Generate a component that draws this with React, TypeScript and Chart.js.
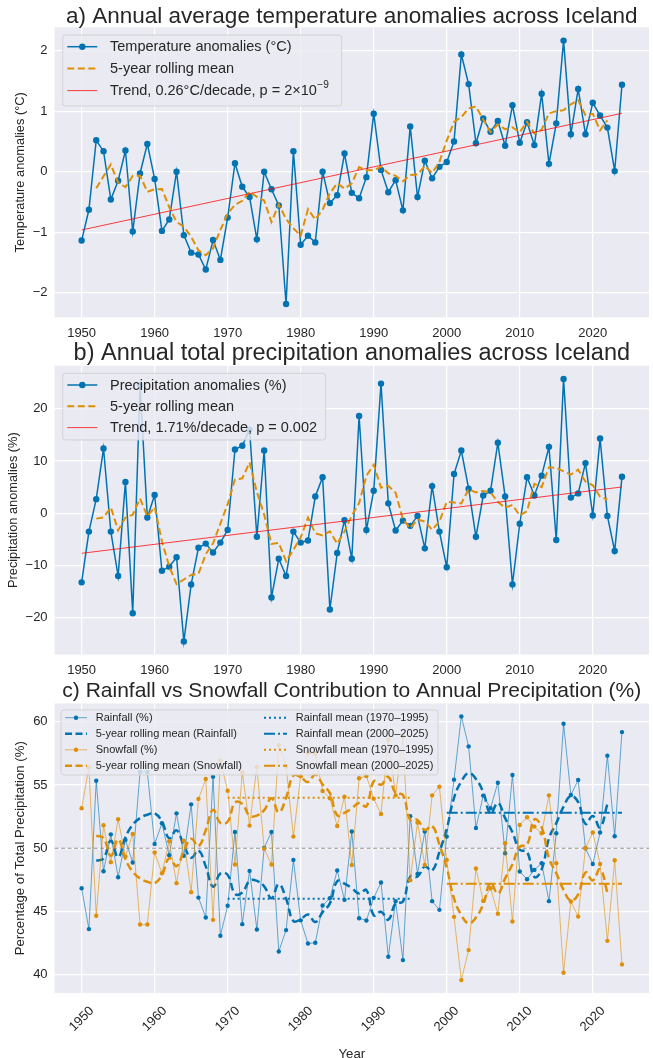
import React, { useEffect, useRef } from "react";
import { Chart, registerables } from "chart.js";

Chart.register(...registerables);

const FONT = "'Liberation Sans', Arial, Helvetica, sans-serif";
const TEXT = "#262626";
const BG = "#EAEAF2";
const BLUE = "#0173B2";
const BLUE_A = "rgba(1,115,178,0.6)";
const ORANGE = "#DE8F05";
const ORANGE_A = "rgba(222,143,5,0.6)";
const RED = "rgba(255,0,0,0.75)";

const YEARS = [
  1950, 1951, 1952, 1953, 1954, 1955, 1956, 1957, 1958, 1959,
  1960, 1961, 1962, 1963, 1964, 1965, 1966, 1967, 1968, 1969,
  1970, 1971, 1972, 1973, 1974, 1975, 1976, 1977, 1978, 1979,
  1980, 1981, 1982, 1983, 1984, 1985, 1986, 1987, 1988, 1989,
  1990, 1991, 1992, 1993, 1994, 1995, 1996, 1997, 1998, 1999,
  2000, 2001, 2002, 2003, 2004, 2005, 2006, 2007, 2008, 2009,
  2010, 2011, 2012, 2013, 2014, 2015, 2016, 2017, 2018, 2019,
  2020, 2021, 2022, 2023, 2024,
];

const TEMP_ANOM = [
  -1.14, -0.63, 0.52, 0.34, -0.46, -0.15, 0.35, -0.99, -0.03, 0.46,
  -0.12, -0.98, -0.79, 0.0, -1.05, -1.34, -1.37, -1.62, -1.13, -1.46,
  -0.76, 0.14, -0.25, -0.42, -1.12, 0.0, -0.29, -0.56, -2.19, 0.34,
  -1.21, -1.06, -1.17, 0.0, -0.52, -0.39, 0.3, -0.35, -0.44, -0.09,
  0.96, 0.03, -0.34, -0.14, -0.64, 0.75, -0.42, 0.18, -0.11, 0.08,
  0.16, 0.5, 1.94, 1.45, 0.47, 0.88, 0.66, 0.84, 0.43, 1.1,
  0.48, 0.82, 0.44, 1.29, 0.13, 0.8, 2.17, 0.62, 1.37, 0.62,
  1.14, 0.93, 0.73, 0.01, 1.44,
];
const TEMP_TREND_YEARS = [1950, 2024];
const TEMP_TREND = [-0.965, 0.967];

const PRECIP_ANOM = [
  -13.2, -3.5, 2.7, 12.4, -3.5, -12.0, 6.0, -19.1, 24.5, -0.8,
  3.5, -11.0, -10.2, -8.4, -24.5, -13.6, -6.6, -5.8, -7.5, -5.6,
  -3.2, 12.2, 12.9, 16.0, -4.5, 12.0, -16.1, -8.7, -12.0, -3.5,
  -5.6, -5.2, 3.2, 6.9, -18.4, -7.6, -1.3, -8.7, 18.6, -3.2,
  4.3, 24.8, 1.9, -3.3, -1.4, -2.4, -0.5, -6.7, 5.2, -3.5,
  -10.3, 7.5, 12.0, 4.7, -4.5, 3.4, 4.3, 13.5, 3.2, -13.6,
  -2.0, 6.9, 3.4, 7.2, 12.7, -5.1, 25.7, 3.0, 3.8, 9.6,
  -0.4, 14.3, -0.5, -7.2, 7.0,
];
const PRECIP_TREND_YEARS = [1950, 2024];
const PRECIP_TREND = [-7.65, 5.03];

const RAINFALL_PCT = [
  46.84, 43.61, 55.34, 48.18, 51.1, 47.71, 50.66, 48.87, 56.03, 56.03,
  50.34, 51.97, 49.45, 52.76, 49.4, 53.47, 46.1, 44.53, 55.66, 43.08,
  45.45, 51.29, 44.0, 48.21, 43.58, 50.03, 51.29, 41.84, 43.53, 49.08,
  44.3, 42.47, 42.53, 45.47, 46.05, 48.24, 45.92, 51.32, 44.47, 44.29,
  46.08, 47.29, 41.42, 45.82, 41.16, 52.53, 47.97, 51.32, 45.82, 45.13,
  50.92, 55.42, 60.42, 58.05, 51.6, 54.16, 53.16, 55.18, 49.61, 55.79,
  48.16, 47.55, 48.29, 48.82, 45.82, 51.18, 59.84, 54.21, 55.39, 50.0,
  48.76, 51.24, 57.32, 50.95, 59.18,
];
const SNOWFALL_PCT = [
  53.16, 56.39, 44.66, 51.82, 48.9, 52.29, 49.34, 51.13, 43.97, 43.97,
  49.66, 48.03, 50.55, 47.24, 50.6, 46.53, 53.9, 55.47, 44.34, 56.92,
  54.55, 48.71, 56.0, 51.79, 56.42, 49.97, 48.71, 58.16, 56.47, 50.92,
  55.7, 57.53, 57.47, 54.53, 53.95, 51.76, 54.08, 48.68, 55.53, 55.71,
  53.92, 52.71, 58.58, 54.18, 58.84, 47.47, 52.03, 48.68, 54.18, 54.87,
  49.08, 44.58, 39.58, 41.95, 48.4, 45.84, 46.84, 44.82, 50.39, 44.21,
  51.84, 52.45, 51.71, 51.18, 54.18, 48.82, 40.16, 45.79, 44.61, 50.0,
  51.24, 48.76, 42.68, 49.05, 40.82,
];
const PERIOD_EARLY = [1970, 1995];
const PERIOD_LATE = [2000, 2024];
const RAIN_PERIOD_MEANS = [46.0, 52.8];
const SNOW_PERIOD_MEANS = [54.0, 47.2];
const EQUAL_SHARE = 50;

const X_RANGE = [1946.3, 2027.7];
const X_TICKS = [1950, 1960, 1970, 1980, 1990, 2000, 2010, 2020];
const TEMP_RANGE = [-2.41, 2.39];
const TEMP_TICKS = [-2, -1, 0, 1, 2];
const PRECIP_RANGE = [-27.0, 28.2];
const PRECIP_TICKS = [-20, -10, 0, 10, 20];
const SHARE_RANGE = [38.56, 61.44];
const SHARE_TICKS = [40, 45, 50, 55, 60];

function rolling5(vals: number[]) {
  const out: { x: number; y: number }[] = [];
  for (let i = 2; i < vals.length - 2; i++) {
    out.push({ x: YEARS[i], y: (vals[i - 2] + vals[i - 1] + vals[i] + vals[i + 1] + vals[i + 2]) / 5 });
  }
  return out;
}
const pts = (vals: number[]) => vals.map((v, i) => ({ x: YEARS[i], y: v }));
const seg = (xs: number[], y0: number, y1: number) => [
  { x: xs[0], y: y0 },
  { x: xs[1], y: y1 },
];
const fmt = (v: number) => (v < 0 ? "\u2212" + Math.abs(v) : String(v));

type LegItem = {
  label: string;
  sup?: string;
  color: string;
  width: number;
  dash?: number[];
  marker?: number;
  markerColor?: string;
};
type LegCol = { sampleX: number; sampleW: number; textX: number; items: LegItem[] };
type Decor = {
  title: string;
  titleY: number;
  titleSize: number;
  yTitle: string;
  yTitleX: number;
  yTitleSize: number;
  xTitle?: string;
  xTitleY?: number;
  rotTicksY?: number;
  legend: { x: number; y: number; w: number; h: number; font: number; rows: number[]; cols: LegCol[] };
};

function drawLegend(ctx: CanvasRenderingContext2D, L: Decor["legend"]) {
  ctx.save();
  const r = 3;
  ctx.beginPath();
  ctx.moveTo(L.x + r, L.y);
  ctx.lineTo(L.x + L.w - r, L.y);
  ctx.arcTo(L.x + L.w, L.y, L.x + L.w, L.y + r, r);
  ctx.lineTo(L.x + L.w, L.y + L.h - r);
  ctx.arcTo(L.x + L.w, L.y + L.h, L.x + L.w - r, L.y + L.h, r);
  ctx.lineTo(L.x + r, L.y + L.h);
  ctx.arcTo(L.x, L.y + L.h, L.x, L.y + L.h - r, r);
  ctx.lineTo(L.x, L.y + r);
  ctx.arcTo(L.x, L.y, L.x + r, L.y, r);
  ctx.closePath();
  ctx.fillStyle = "rgba(234,234,242,0.82)";
  ctx.fill();
  ctx.strokeStyle = "rgba(204,204,204,0.8)";
  ctx.lineWidth = 1;
  ctx.stroke();
  for (const col of L.cols) {
    col.items.forEach((it, i) => {
      const y = L.rows[i];
      ctx.save();
      ctx.strokeStyle = it.color;
      ctx.lineWidth = it.width;
      ctx.setLineDash(it.dash || []);
      ctx.beginPath();
      ctx.moveTo(col.sampleX, y);
      ctx.lineTo(col.sampleX + col.sampleW, y);
      ctx.stroke();
      ctx.restore();
      if (it.marker) {
        ctx.beginPath();
        ctx.fillStyle = it.markerColor || it.color;
        ctx.arc(col.sampleX + col.sampleW / 2, y, it.marker, 0, Math.PI * 2);
        ctx.fill();
      }
      ctx.fillStyle = TEXT;
      ctx.font = `${L.font}px ${FONT}`;
      ctx.textAlign = "left";
      ctx.textBaseline = "middle";
      ctx.fillText(it.label, col.textX, y + 0.5);
      if (it.sup) {
        const w = ctx.measureText(it.label).width;
        ctx.font = `${L.font * 0.7}px ${FONT}`;
        ctx.fillText(it.sup, col.textX + w + 0.5, y - L.font * 0.38);
      }
    });
  }
  ctx.restore();
}

function decorPlugin(d: Decor) {
  return {
    id: "decor",
    beforeDraw(chart: any) {
      const { ctx, chartArea: ca } = chart;
      ctx.save();
      ctx.fillStyle = "#ffffff";
      ctx.fillRect(0, 0, chart.width, chart.height);
      ctx.fillStyle = BG;
      ctx.fillRect(ca.left, ca.top, ca.right - ca.left, ca.bottom - ca.top);
      ctx.restore();
    },
    afterDraw(chart: any) {
      const { ctx, chartArea: ca } = chart;
      ctx.save();
      ctx.fillStyle = TEXT;
      ctx.textAlign = "center";
      ctx.textBaseline = "middle";
      ctx.font = `${d.titleSize}px ${FONT}`;
      ctx.fillText(d.title, (ca.left + ca.right) / 2, d.titleY);
      ctx.save();
      ctx.translate(d.yTitleX, (ca.top + ca.bottom) / 2);
      ctx.rotate(-Math.PI / 2);
      ctx.font = `${d.yTitleSize}px ${FONT}`;
      ctx.fillText(d.yTitle, 0, 0);
      ctx.restore();
      if (d.xTitle) {
        ctx.font = `${d.yTitleSize}px ${FONT}`;
        ctx.fillText(d.xTitle, (ca.left + ca.right) / 2, d.xTitleY as number);
      }
      if (d.rotTicksY !== undefined) {
        ctx.font = `13px ${FONT}`;
        for (const v of X_TICKS) {
          const x = chart.scales.x.getPixelForValue(v);
          ctx.save();
          ctx.translate(x, d.rotTicksY);
          ctx.rotate(-Math.PI / 4);
          ctx.fillText(String(v), 0, 0);
          ctx.restore();
        }
      }
      drawLegend(ctx, d.legend);
      ctx.restore();
    },
  };
}

const Y_AXIS_W = 54.6;
const RIGHT_PAD = 3.3;

function baseOptions(plotTop: number, xH: number, yRange: number[], yTicks: number[], showXLabels: boolean) {
  return {
    animation: false,
    responsive: false,
    devicePixelRatio: 1,
    events: [],
    layout: { padding: { left: 0, right: RIGHT_PAD, top: plotTop, bottom: 0 } },
    plugins: { legend: { display: false }, tooltip: { enabled: false }, title: { display: false } },
    scales: {
      x: {
        type: "linear",
        min: X_RANGE[0],
        max: X_RANGE[1],
        afterBuildTicks: (s: any) => {
          s.ticks = X_TICKS.map((v) => ({ value: v }));
        },
        afterFit: (s: any) => {
          s.height = xH;
        },
        grid: { color: "#ffffff", lineWidth: 1.2, drawTicks: false },
        border: { display: false },
        ticks: {
          display: showXLabels,
          color: TEXT,
          font: { size: 13, family: FONT },
          padding: 8.5,
          maxRotation: 0,
          minRotation: 0,
          autoSkip: false,
          callback: (v: number) => String(v),
        },
      },
      y: {
        type: "linear",
        min: yRange[0],
        max: yRange[1],
        afterBuildTicks: (s: any) => {
          s.ticks = yTicks.map((v) => ({ value: v }));
        },
        afterFit: (s: any) => {
          s.width = Y_AXIS_W;
        },
        grid: { color: "#ffffff", lineWidth: 1.2, drawTicks: false },
        border: { display: false },
        ticks: {
          color: TEXT,
          font: { size: 13, family: FONT },
          padding: 7,
          autoSkip: false,
          callback: (v: number) => fmt(v),
        },
      },
    },
  };
}

// canvas slices of the page: [top, height]
const SLICE_A = [0, 341];
const SLICE_B = [341, 337];
const SLICE_C = [678, 380];

function buildTemp(canvas: HTMLCanvasElement) {
  const d: Decor = {
    title: "a) Annual average temperature anomalies across Iceland",
    titleY: 17,
    titleSize: 22.5,
    yTitle: "Temperature anomalies (\u00B0C)",
    yTitleX: 20,
    yTitleSize: 12.8,
    legend: {
      x: 62.7, y: 35, w: 279, h: 71, font: 14.5, rows: [46.7, 68.6, 90.6],
      cols: [{
        sampleX: 67.3, sampleW: 30, textX: 110,
        items: [
          { label: "Temperature anomalies (\u00B0C)", color: BLUE, width: 1.5, marker: 3.2 },
          { label: "5-year rolling mean", color: ORANGE, width: 2, dash: [7, 3.5] },
          { label: "Trend, 0.26\u00B0C/decade, p = 2\u00D710", sup: "\u22129", color: RED, width: 1 },
        ],
      }],
    },
  };
  return new Chart(canvas, {
    type: "line",
    data: {
      datasets: [
        { data: pts(TEMP_ANOM), borderColor: BLUE, backgroundColor: BLUE, borderWidth: 1.5, pointRadius: 3.2, pointBorderWidth: 0, pointBackgroundColor: BLUE, order: 3 },
        { data: rolling5(TEMP_ANOM), borderColor: ORANGE, borderWidth: 2, borderDash: [7, 3.5], pointRadius: 0, order: 2 },
        { data: seg(TEMP_TREND_YEARS, TEMP_TREND[0], TEMP_TREND[1]), borderColor: RED, borderWidth: 1, pointRadius: 0, order: 1 },
      ],
    } as any,
    options: baseOptions(27.3, SLICE_A[1] - 317.3, TEMP_RANGE, TEMP_TICKS, true) as any,
    plugins: [decorPlugin(d) as any],
  });
}

function buildPrecip(canvas: HTMLCanvasElement) {
  const t = SLICE_B[0];
  const d: Decor = {
    title: "b) Annual total precipitation anomalies across Iceland",
    titleY: 354 - t,
    titleSize: 23.5,
    yTitle: "Precipitation anomalies (%)",
    yTitleX: 13,
    yTitleSize: 12.8,
    legend: {
      x: 62.7, y: 373.3 - t, w: 263, h: 66.7, font: 14.5, rows: [385 - t, 406.2 - t, 427.6 - t],
      cols: [{
        sampleX: 67.3, sampleW: 30, textX: 110,
        items: [
          { label: "Precipitation anomalies (%)", color: BLUE, width: 1.5, marker: 3.2 },
          { label: "5-year rolling mean", color: ORANGE, width: 2, dash: [7, 3.5] },
          { label: "Trend, 1.71%/decade, p = 0.002", color: RED, width: 1 },
        ],
      }],
    },
  };
  return new Chart(canvas, {
    type: "line",
    data: {
      datasets: [
        { data: pts(PRECIP_ANOM), borderColor: BLUE, backgroundColor: BLUE, borderWidth: 1.5, pointRadius: 3.2, pointBorderWidth: 0, pointBackgroundColor: BLUE, order: 3 },
        { data: rolling5(PRECIP_ANOM), borderColor: ORANGE, borderWidth: 2, borderDash: [7, 3.5], pointRadius: 0, order: 2 },
        { data: seg(PRECIP_TREND_YEARS, PRECIP_TREND[0], PRECIP_TREND[1]), borderColor: RED, borderWidth: 1, pointRadius: 0, order: 1 },
      ],
    } as any,
    options: baseOptions(365.8 - t, SLICE_B[0] + SLICE_B[1] - 654.5, PRECIP_RANGE, PRECIP_TICKS, true) as any,
    plugins: [decorPlugin(d) as any],
  });
}

function buildShare(canvas: HTMLCanvasElement) {
  const t = SLICE_C[0];
  const DOT = [2, 3];
  const DASHDOT = [11, 3, 2, 3];
  const d: Decor = {
    title: "c) Rainfall vs Snowfall Contribution to Annual Precipitation (%)",
    titleY: 691 - t,
    titleSize: 21,
    yTitle: "Percentage of Total Precipitation (%)",
    yTitleX: 20,
    yTitleSize: 13.2,
    xTitle: "Year",
    xTitleY: 1054 - t,
    rotTicksY: 1019 - t,
    legend: {
      x: 61, y: 710 - t, w: 377, h: 65, font: 11, rows: [717.7 - t, 733.8 - t, 749.8 - t, 765.7 - t],
      cols: [
        {
          sampleX: 65, sampleW: 22, textX: 95.7,
          items: [
            { label: "Rainfall (%)", color: BLUE_A, width: 1, marker: 2.2, markerColor: BLUE },
            { label: "5-year rolling mean (Rainfall)", color: BLUE, width: 2.5, dash: [7, 3.5] },
            { label: "Snowfall (%)", color: ORANGE_A, width: 1, marker: 2.2, markerColor: ORANGE },
            { label: "5-year rolling mean (Snowfall)", color: ORANGE, width: 2.5, dash: [7, 3.5] },
          ],
        },
        {
          sampleX: 264, sampleW: 23, textX: 295.7,
          items: [
            { label: "Rainfall mean (1970\u20131995)", color: BLUE, width: 2, dash: DOT },
            { label: "Rainfall mean (2000\u20132025)", color: BLUE, width: 2, dash: DASHDOT },
            { label: "Snowfall mean (1970\u20131995)", color: ORANGE, width: 2, dash: DOT },
            { label: "Snowfall mean (2000\u20132025)", color: ORANGE, width: 2, dash: DASHDOT },
          ],
        },
      ],
    },
  };
  return new Chart(canvas, {
    type: "line",
    data: {
      datasets: [
        { data: seg(X_RANGE, EQUAL_SHARE, EQUAL_SHARE), borderColor: "rgba(128,128,128,0.85)", borderWidth: 1, borderDash: [4, 2.5], pointRadius: 0, order: 9 },
        { data: pts(RAINFALL_PCT), borderColor: BLUE_A, borderWidth: 1, pointRadius: 2.2, pointBorderWidth: 0, pointBackgroundColor: BLUE, order: 8 },
        { data: rolling5(RAINFALL_PCT), borderColor: BLUE, borderWidth: 2.5, borderDash: [8, 4], pointRadius: 0, tension: 0.45, order: 7 },
        { data: pts(SNOWFALL_PCT), borderColor: ORANGE_A, borderWidth: 1, pointRadius: 2.2, pointBorderWidth: 0, pointBackgroundColor: ORANGE, order: 6 },
        { data: rolling5(SNOWFALL_PCT), borderColor: ORANGE, borderWidth: 2.5, borderDash: [8, 4], pointRadius: 0, tension: 0.45, order: 5 },
        { data: seg(PERIOD_EARLY, RAIN_PERIOD_MEANS[0], RAIN_PERIOD_MEANS[0]), borderColor: BLUE, borderWidth: 2, borderDash: DOT, pointRadius: 0, order: 4 },
        { data: seg(PERIOD_LATE, RAIN_PERIOD_MEANS[1], RAIN_PERIOD_MEANS[1]), borderColor: BLUE, borderWidth: 2, borderDash: DASHDOT, pointRadius: 0, order: 3 },
        { data: seg(PERIOD_EARLY, SNOW_PERIOD_MEANS[0], SNOW_PERIOD_MEANS[0]), borderColor: ORANGE, borderWidth: 2, borderDash: DOT, pointRadius: 0, order: 2 },
        { data: seg(PERIOD_LATE, SNOW_PERIOD_MEANS[1], SNOW_PERIOD_MEANS[1]), borderColor: ORANGE, borderWidth: 2, borderDash: DASHDOT, pointRadius: 0, order: 1 },
      ],
    } as any,
    options: baseOptions(703.5 - t, SLICE_C[0] + SLICE_C[1] - 993, SHARE_RANGE, SHARE_TICKS, false) as any,
    plugins: [decorPlugin(d) as any],
  });
}

export default function App() {
  const refA = useRef<HTMLCanvasElement>(null);
  const refB = useRef<HTMLCanvasElement>(null);
  const refC = useRef<HTMLCanvasElement>(null);
  useEffect(() => {
    Chart.defaults.font.family = FONT;
    Chart.defaults.color = TEXT;
    const charts = [buildTemp(refA.current!), buildPrecip(refB.current!), buildShare(refC.current!)];
    return () => charts.forEach((c) => c.destroy());
  }, []);
  const cs = (s: number[]): React.CSSProperties => ({ position: "absolute", left: 0, top: s[0], width: 653, height: s[1], display: "block" });
  return (
    <div style={{ position: "absolute", left: 0, top: 0, width: 653, height: 1058, background: "#ffffff", overflow: "hidden" }}>
      <canvas ref={refA} width={653} height={SLICE_A[1]} style={cs(SLICE_A)} />
      <canvas ref={refB} width={653} height={SLICE_B[1]} style={cs(SLICE_B)} />
      <canvas ref={refC} width={653} height={SLICE_C[1]} style={cs(SLICE_C)} />
    </div>
  );
}
